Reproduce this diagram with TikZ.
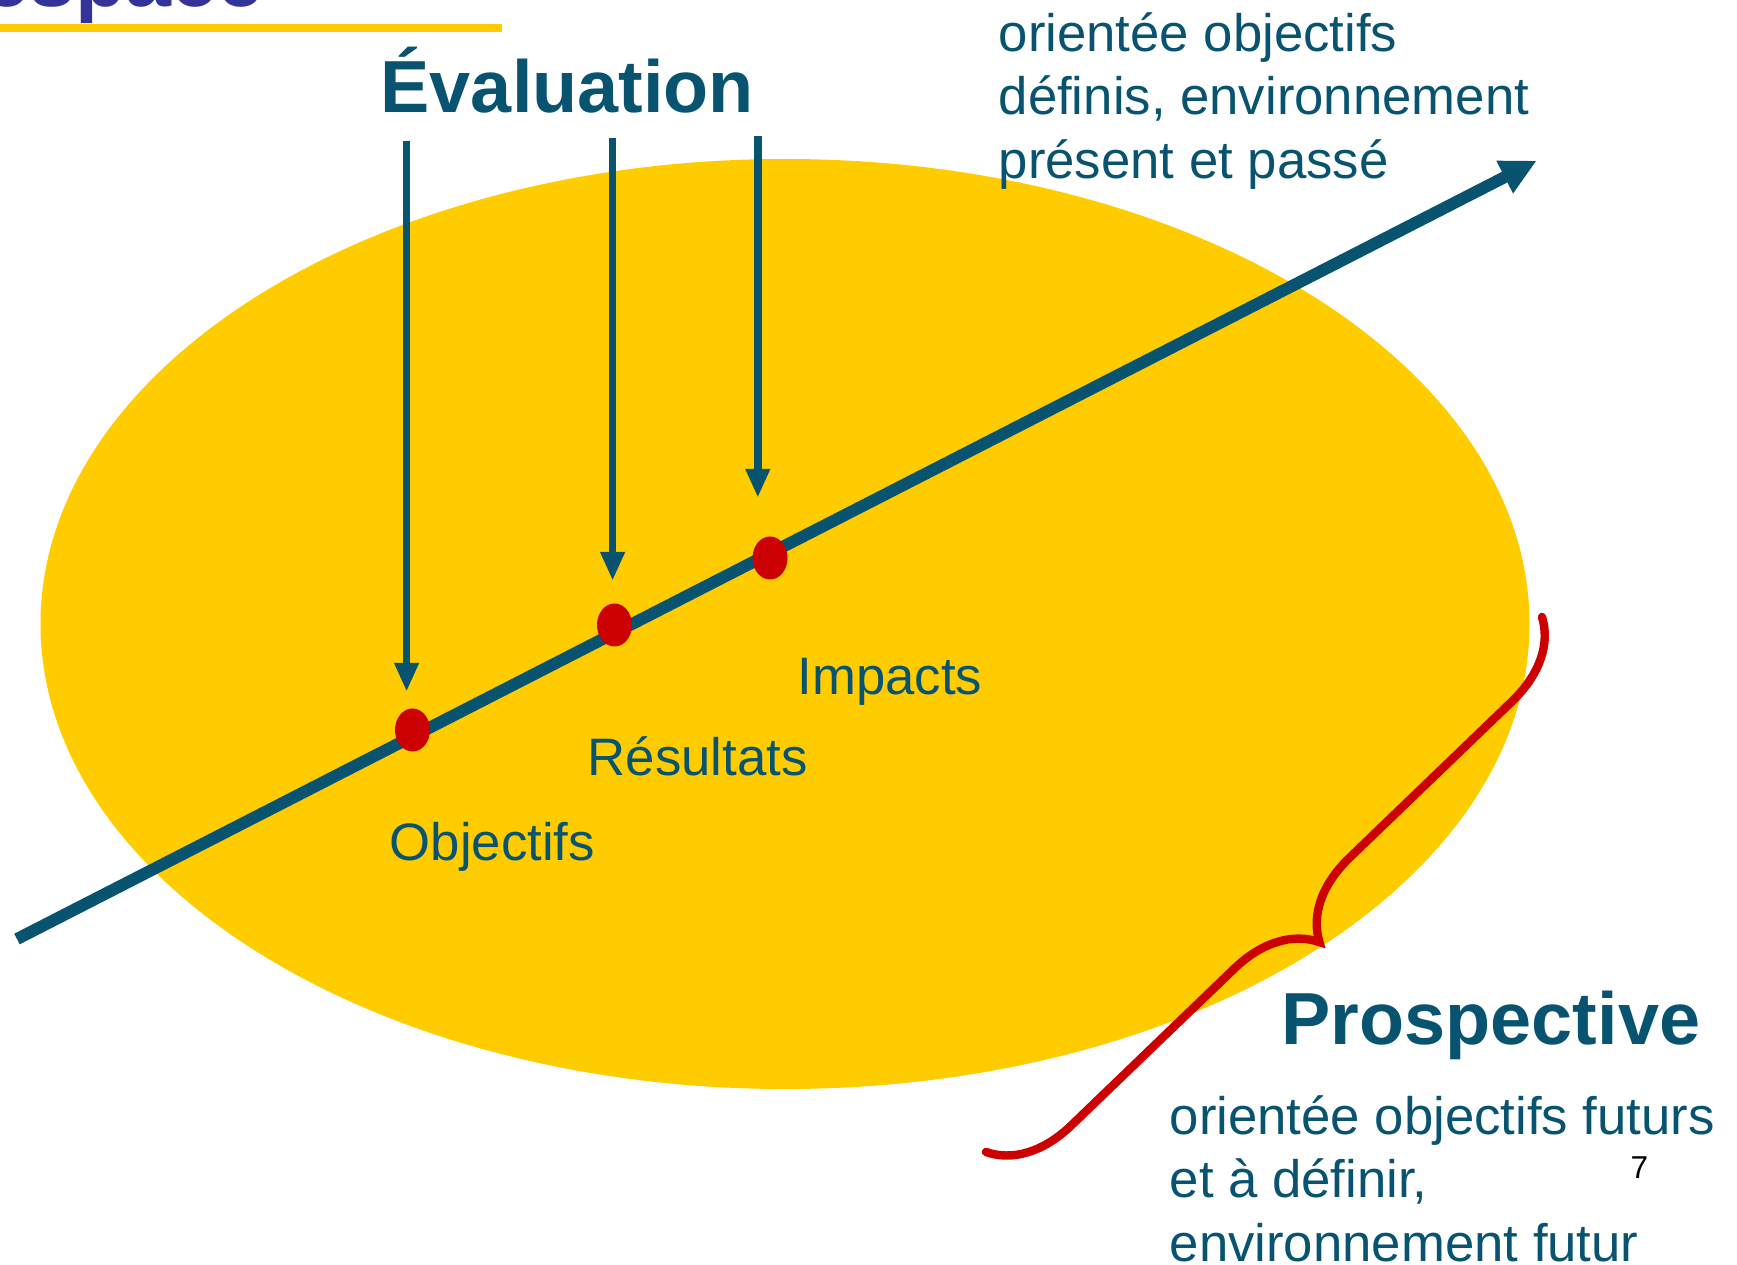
\documentclass[tikz,border=0pt]{standalone}
\usepackage{fontspec}
\setmainfont{Liberation Sans}
\usepackage{xcolor}
\usepackage{tikz}
\usetikzlibrary{arrows.meta, shapes.geometric, decorations.pathreplacing, calc}

\definecolor{evblue}{HTML}{085470}
\definecolor{evyellow}{HTML}{FFCC00}
\definecolor{evred}{HTML}{CC0000}
\definecolor{titleblue}{HTML}{333399}

\begin{document}
\begin{tikzpicture}
    \tikzstyle{reddot} = [ellipse, fill=evred, minimum width=0.35cm, minimum height=0.43cm, inner sep=0]
    \tikzstyle{axisline} = [evblue, line width=3.4pt, -{Triangle[length=0.36cm, width=0.34cm]}]
    \tikzstyle{evarrow} = [evblue, line width=2.2pt, -{Triangle[length=0.29cm, width=0.23cm]}]
    \tikzstyle{ptlabel} = [text=evblue, font=\fontsize{15}{18}\selectfont, anchor=base west, inner sep=0]
    \tikzstyle{bigtitle} = [text=evblue, font=\fontsize{21}{25}\selectfont\bfseries, anchor=base west, inner sep=0]
    \tikzstyle{bodytext} = [text=evblue, font=\fontsize{15}{18}\selectfont, align=left, anchor=north west, inner sep=0]

    \useasboundingbox (0,0) rectangle (17.37,-12.65);

    % fond jaune et titre coupe
    \fill[evyellow] (7.85,-6.24) ellipse (7.445cm and 4.65cm);
    \draw[evyellow, line width=2.3pt] (0,-0.28) -- (5.02,-0.28);
    \node[text=titleblue, font=\fontsize{23.5}{28}\selectfont\bfseries, anchor=base east, inner sep=0] (espace) at (2.64,-0.065) {espace};

    % axe du temps
    \coordinate (start) at (0.17,-9.39);
    \coordinate (end) at (15.367,-1.607);
    \draw[axisline] (start) -- (end);
    \node[reddot] (obj) at (4.125,-7.30) {};
    \node[reddot] (res) at (6.145,-6.25) {};
    \node[reddot] (imp) at (7.70,-5.58) {};

    \node[ptlabel] (objtxt) at (3.89,-8.61) {Objectifs};
    \node[ptlabel] (restxt) at (5.87,-7.75) {Résultats};
    \node[ptlabel] (imptxt) at (7.97,-6.95) {Impacts};

    % evaluation
    \node[bigtitle] (eval) at (3.80,-1.13) {Évaluation};
    \coordinate (ev1) at (4.066,-1.407);
    \coordinate (ev2) at (6.126,-1.385);
    \coordinate (ev3) at (7.578,-1.36);
    \draw[evarrow, shorten >=0.16cm] (ev1) -- (ev1 |- obj.north);
    \draw[evarrow, shorten >=0.22cm] (ev2) -- (ev2 |- res.north);
    \draw[evarrow, shorten >=0.38cm] (ev3) -- (ev3 |- imp.north);

    \node[bodytext] (evaltxt) at (9.98,-0.12) {orientée objectifs\\définis, environnement\\présent et passé};

    % prospective
    \draw[evred, line width=2.4pt, line cap=round, decorate, decoration={brace, amplitude=0.8cm}] (15.42,-6.17) -- (9.86,-11.52);
    \node[bigtitle] (prosp) at (12.81,-10.44) {Prospective};
    \node[bodytext] (prosptxt) at (11.69,-10.95) {orientée objectifs futurs\\et à définir,\\environnement futur};

    \node[font=\fontsize{9}{11}\selectfont, anchor=base west, inner sep=0] (pagenum) at (16.30,-11.78) {7};
\end{tikzpicture}
\end{document}
